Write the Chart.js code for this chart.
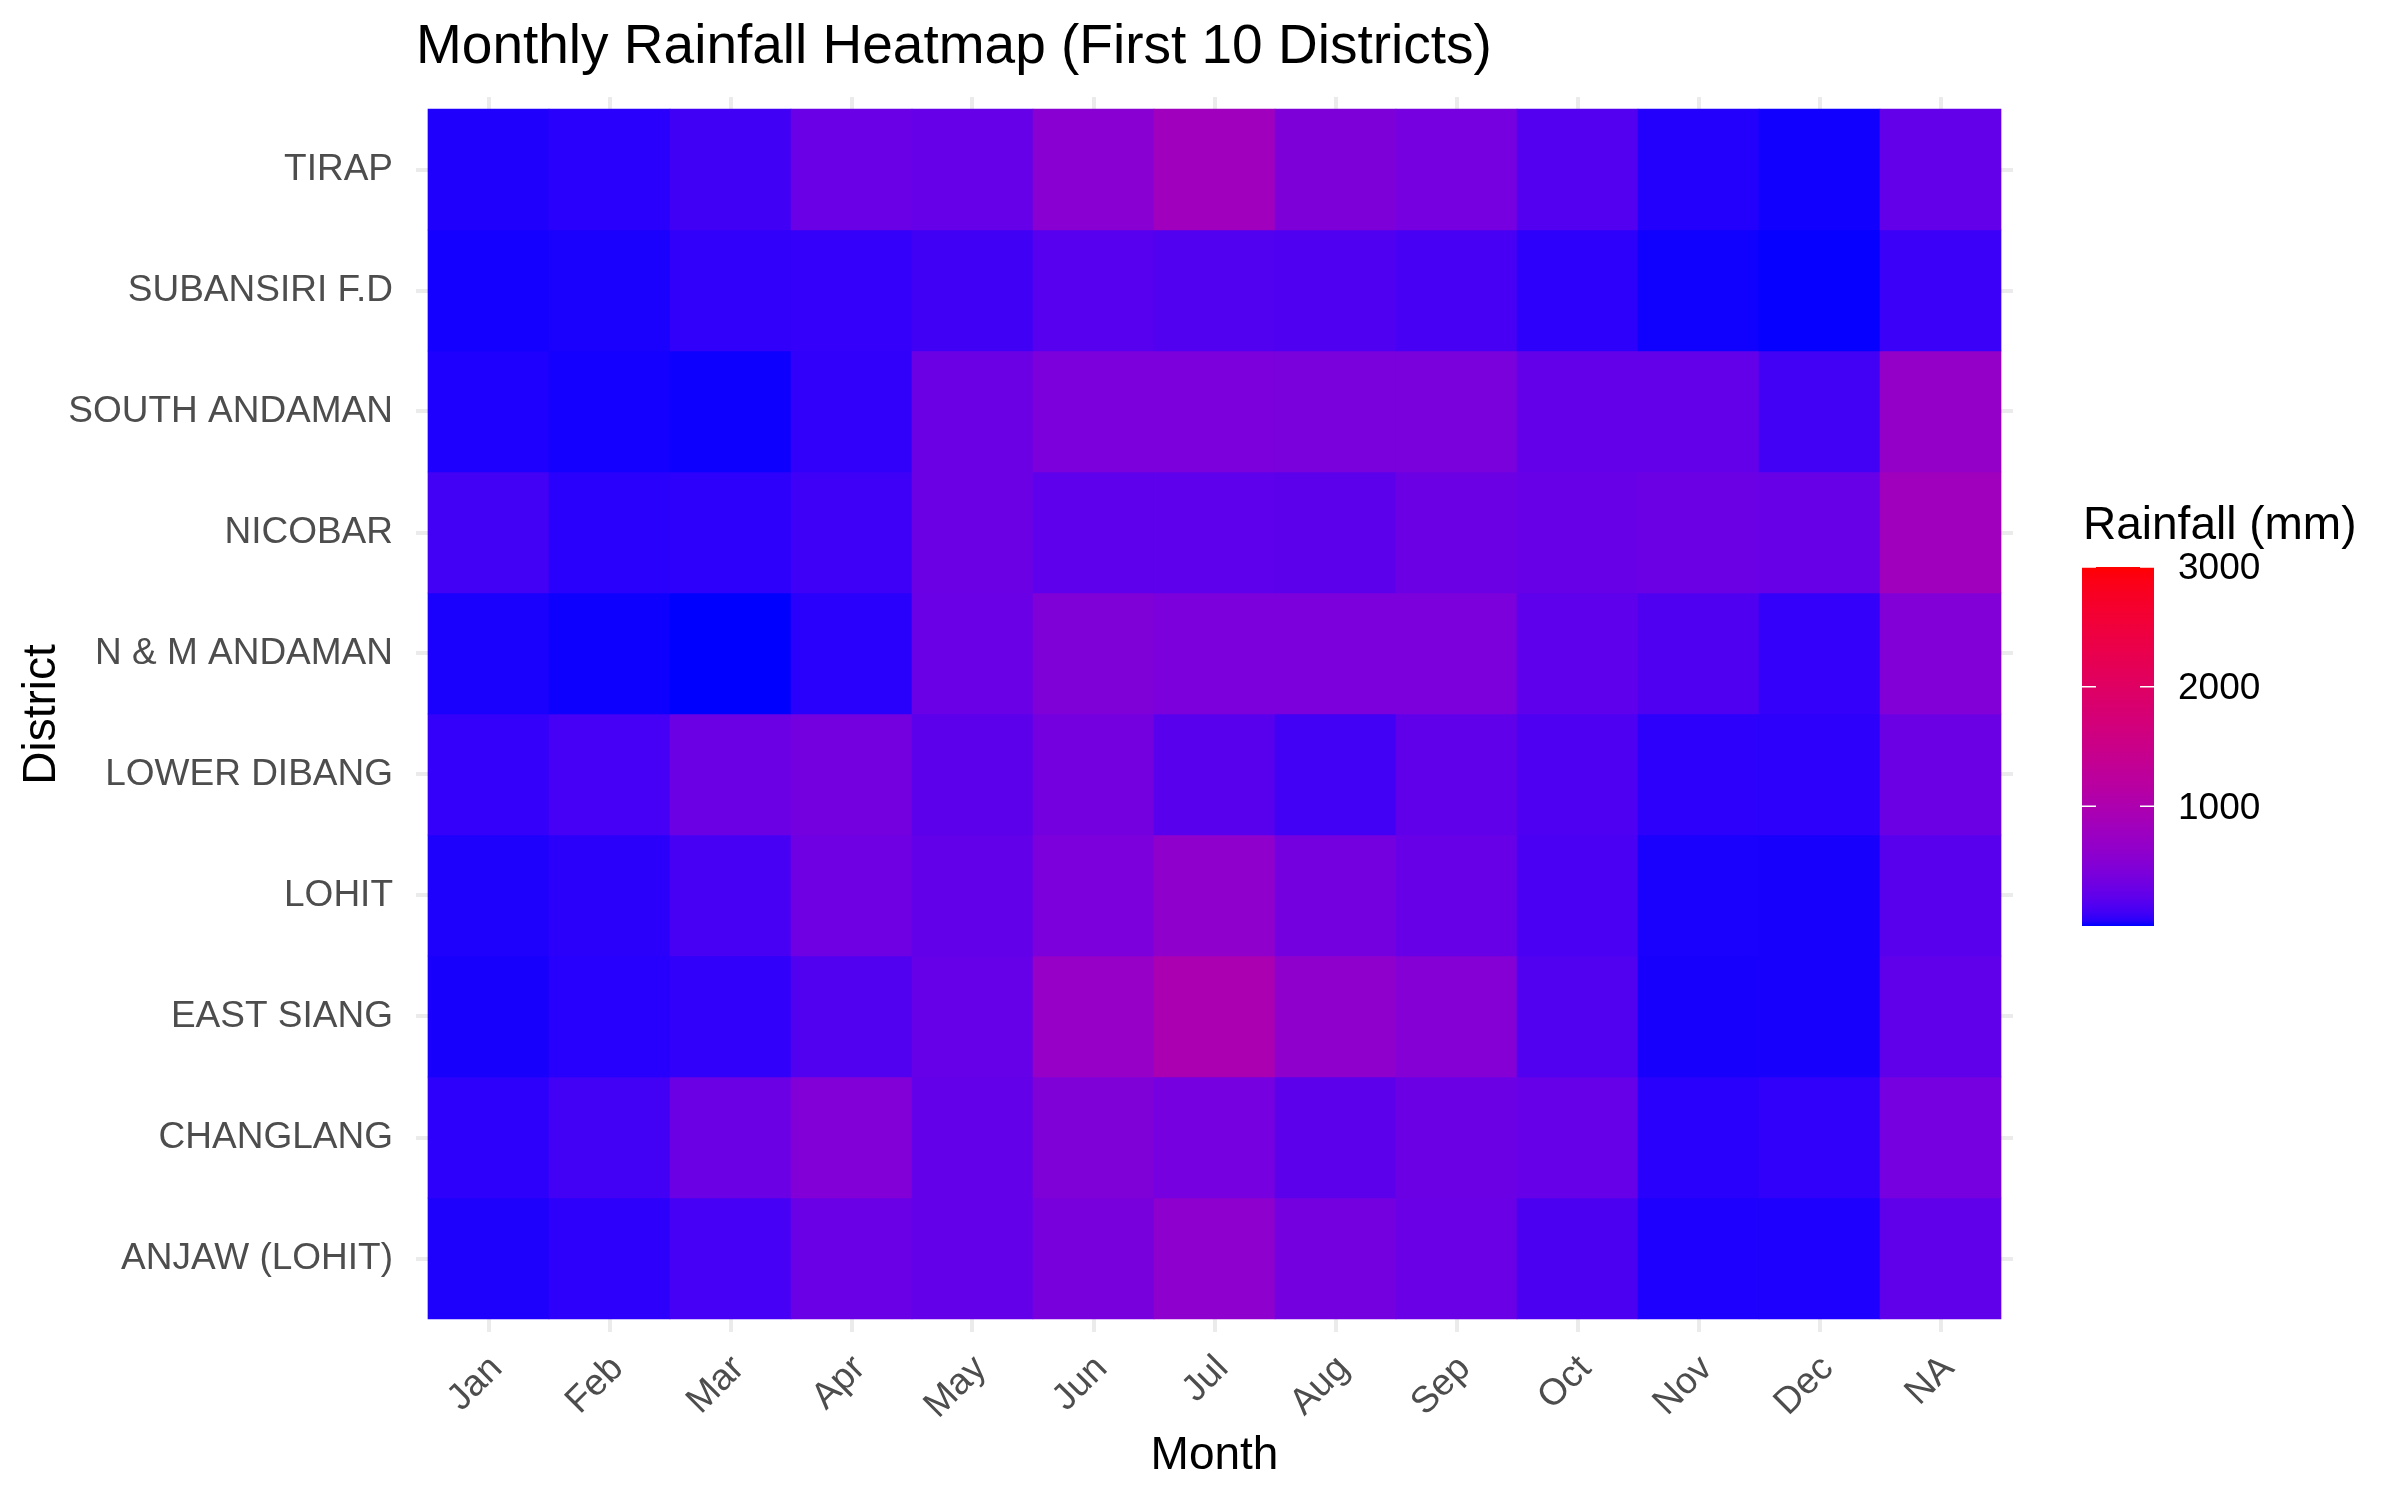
<!DOCTYPE html>
<html lang="en">
<head>
<meta charset="UTF-8">
<title>Monthly Rainfall Heatmap (First 10 Districts)</title>
<script src="https://cdn.jsdelivr.net/npm/chart.js"></script>
<style>
  html, body { margin: 0; padding: 0; background: #ffffff; }
  #wrap { width: 2400px; height: 1500px; }
</style>
</head>
<body>
<div id="wrap"><canvas id="heatmap" width="2400" height="1500"></canvas></div>
<script>
// columns (NA = records without a month)
const months = ['Jan', 'Feb', 'Mar', 'Apr', 'May', 'Jun', 'Jul', 'Aug', 'Sep', 'Oct', 'Nov', 'Dec', 'NA'];
// rows, top to bottom
const districts = ['TIRAP', 'SUBANSIRI F.D', 'SOUTH ANDAMAN', 'NICOBAR', 'N & M ANDAMAN',
                   'LOWER DIBANG', 'LOHIT', 'EAST SIANG', 'CHANGLANG', 'ANJAW (LOHIT)'];

// rainfall in mm, Jan..Dec, NA
const tirap        = [30, 45, 109, 312, 287, 551, 818, 462, 396, 189, 34, 13, 275];
const subansiri    = [15, 22, 63, 73, 109, 199, 181, 172, 138, 53, 11, 3, 90];
const southAndaman = [25, 15, 8, 63, 325, 445, 445, 429, 429, 275, 275, 116, 678];
const nicobar      = [116, 45, 53, 103, 325, 241, 241, 232, 325, 300, 325, 300, 818];
const nmAndaman    = [22, 8, 0, 45, 312, 480, 445, 445, 445, 241, 172, 73, 496];
const lowerDibang  = [73, 124, 325, 382, 232, 382, 210, 116, 254, 163, 53, 53, 325];
const lohit        = [27, 49, 138, 338, 266, 445, 634, 382, 300, 146, 22, 19, 210];
const eastSiang    = [19, 41, 63, 181, 287, 698, 957, 634, 515, 181, 19, 19, 254];
const changlang    = [53, 116, 325, 496, 275, 480, 396, 232, 325, 287, 45, 63, 396];
const anjaw        = [27, 53, 124, 312, 275, 413, 615, 382, 312, 154, 25, 25, 254];

const rows = [tirap, subansiri, southAndaman, nicobar, nmAndaman,
              lowerDibang, lohit, eastSiang, changlang, anjaw];

// fill scale limits and colourbar breaks
const fillLimits = [0, 3000];
const legendBreaks = [1000, 2000, 3000];

// ---- blue -> red gradient interpolated in CIE Lab (like ggplot's scale_fill_gradient)
const WHITE = [0.95047, 1.0, 1.08883];
function toLinear(c) {
  c /= 255;
  return c <= 0.04045 ? c / 12.92 : Math.pow((c + 0.055) / 1.055, 2.4);
}
function toByte(c) {
  c = c <= 0.0031308 ? 12.92 * c : 1.055 * Math.pow(c, 1 / 2.4) - 0.055;
  return Math.round(Math.min(1, Math.max(0, c)) * 255);
}
function rgbToLab(rgb) {
  const [r, g, b] = rgb.map(toLinear);
  const x = (0.4124 * r + 0.3576 * g + 0.1805 * b) / WHITE[0];
  const y = (0.2126 * r + 0.7152 * g + 0.0722 * b) / WHITE[1];
  const z = (0.0193 * r + 0.1192 * g + 0.9505 * b) / WHITE[2];
  const f = t => t > 0.008856 ? Math.cbrt(t) : 7.787 * t + 16 / 116;
  const fx = f(x), fy = f(y), fz = f(z);
  return [116 * fy - 16, 500 * (fx - fy), 200 * (fy - fz)];
}
function labToRgb(lab) {
  const [L, a, bb] = lab;
  const fy = (L + 16) / 116, fx = fy + a / 500, fz = fy - bb / 200;
  const inv = t => t * t * t > 0.008856 ? t * t * t : (t - 16 / 116) / 7.787;
  const x = inv(fx) * WHITE[0], y = inv(fy) * WHITE[1], z = inv(fz) * WHITE[2];
  const r = 3.2406 * x - 1.5372 * y - 0.4986 * z;
  const g = -0.9689 * x + 1.8758 * y + 0.0415 * z;
  const b = 0.0557 * x - 0.2040 * y + 1.0570 * z;
  return [toByte(r), toByte(g), toByte(b)];
}
const LOW = rgbToLab([0, 0, 255]);
const HIGH = rgbToLab([255, 0, 0]);
function fillColour(v) {
  let t = (v - fillLimits[0]) / (fillLimits[1] - fillLimits[0]);
  t = Math.min(1, Math.max(0, t));
  const lab = LOW.map((c, k) => c + (HIGH[k] - c) * t);
  const [r, g, b] = labToRgb(lab);
  return `rgb(${r},${g},${b})`;
}

// ---- layout (pixels)
const PANEL = { left: 416, top: 97, right: 2013, bottom: 1332 };
const UNIT = 121;   // one tile
const FONT = '"Liberation Sans", Arial, Helvetica, sans-serif';

// titles, axis titles and the colourbar legend
const annotations = {
  id: 'annotations',
  afterDraw(chart) {
    const ctx = chart.ctx;
    ctx.save();
    ctx.fillStyle = '#000000';
    ctx.textBaseline = 'alphabetic';

    ctx.font = `55px ${FONT}`;
    ctx.textAlign = 'left';
    ctx.fillText('Monthly Rainfall Heatmap (First 10 Districts)', PANEL.left, 63);

    ctx.font = `46px ${FONT}`;
    ctx.textAlign = 'center';
    ctx.fillText('Month', (PANEL.left + PANEL.right) / 2, 1469);

    ctx.save();
    ctx.translate(55, (PANEL.top + PANEL.bottom) / 2);
    ctx.rotate(-Math.PI / 2);
    ctx.fillText('District', 0, 0);
    ctx.restore();

    // colourbar
    const bar = { left: 2082, right: 2154, top: 567, bottom: 926 };
    const yOf = v => bar.bottom - (v - fillLimits[0]) / (fillLimits[1] - fillLimits[0]) * (bar.bottom - bar.top);

    ctx.font = `46px ${FONT}`;
    ctx.textAlign = 'left';
    ctx.fillText('Rainfall (mm)', 2083, 539);

    const grad = ctx.createLinearGradient(0, bar.bottom, 0, bar.top);
    for (let k = 0; k <= 60; k++) {
      const v = fillLimits[0] + (fillLimits[1] - fillLimits[0]) * k / 60;
      grad.addColorStop(k / 60, fillColour(v));
    }
    ctx.fillStyle = grad;
    ctx.fillRect(bar.left, bar.top, bar.right - bar.left, bar.bottom - bar.top);

    ctx.strokeStyle = '#ffffff';
    ctx.lineWidth = 1.5;
    ctx.font = `37px ${FONT}`;
    ctx.fillStyle = '#000000';
    ctx.textBaseline = 'middle';
    legendBreaks.forEach(v => {
      const y = yOf(v);
      ctx.beginPath();
      ctx.moveTo(bar.left, y); ctx.lineTo(bar.left + 14, y);
      ctx.moveTo(bar.right - 14, y); ctx.lineTo(bar.right, y);
      ctx.stroke();
      ctx.fillText(String(v), 2178, y + 2);
    });
    ctx.restore();
  }
};

const datasets = rows.map((vals, i) => ({
  label: districts[i],
  data: vals.map((v, j) => ({ x: j, y: [i - 0.5, i + 0.5], rain: v })),
  backgroundColor: vals.map(fillColour),
  borderWidth: 0,
  grouped: false,
  barPercentage: 1,
  categoryPercentage: 1
}));

new Chart(document.getElementById('heatmap'), {
  type: 'bar',
  data: { datasets },
  options: {
    responsive: false,
    animation: false,
    devicePixelRatio: 1,
    layout: { padding: { top: PANEL.top, right: 2400 - PANEL.right, bottom: 0, left: 0 } },
    plugins: {
      legend: { display: false },
      tooltip: { enabled: false },
      title: { display: false }
    },
    scales: {
      x: {
        type: 'linear',
        offset: false,
        min: -0.5 - 12 / UNIT,
        max: months.length - 0.5 + 12 / UNIT,
        afterBuildTicks: s => { s.ticks = months.map((m, j) => ({ value: j })); },
        afterFit: s => { s.height = 1500 - PANEL.bottom; },
        grid: { color: '#EBEBEB', lineWidth: 4, drawTicks: false, offset: false },
        border: { display: false },
        ticks: {
          autoSkip: false,
          minRotation: 45,
          maxRotation: 45,
          padding: 15,
          labelOffset: 8,
          color: '#4D4D4D',
          font: { family: FONT, size: 37 },
          callback: v => months[Math.round(v)]
        }
      },
      y: {
        type: 'linear',
        reverse: true,
        min: -0.5 - 12 / UNIT,
        max: districts.length - 0.5 + 13 / UNIT,
        afterBuildTicks: s => { s.ticks = districts.map((d, i) => ({ value: i })); },
        afterFit: s => { s.width = PANEL.left; },
        grid: { color: '#EBEBEB', lineWidth: 4, drawTicks: false },
        border: { display: false },
        ticks: {
          autoSkip: false,
          padding: 23,
          color: '#4D4D4D',
          font: { family: FONT, size: 37 },
          callback: v => districts[Math.round(v)]
        }
      }
    }
  },
  plugins: [annotations]
});
</script>
</body>
</html>
